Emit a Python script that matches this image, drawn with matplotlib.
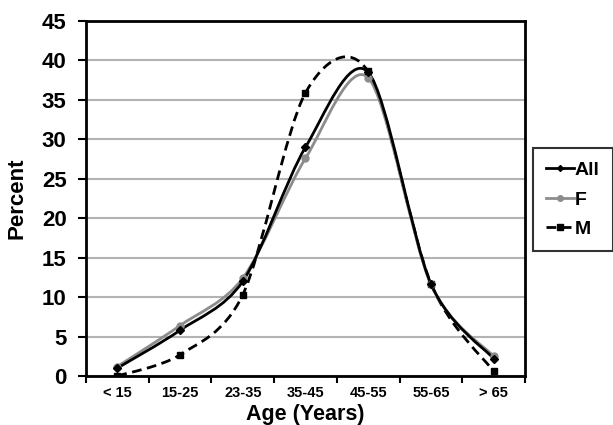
import matplotlib
matplotlib.use("Agg")
import matplotlib.pyplot as plt
from matplotlib.path import Path
from matplotlib.patches import PathPatch
from matplotlib.lines import Line2D
import numpy as np

plt.rcParams['font.family'] = ['Liberation Sans', 'DejaVu Sans']

ages = ['< 15', '15-25', '23-35', '35-45', '45-55', '55-65', '> 65']
all_pct = [1.0, 5.8, 12.0, 29.0, 38.5, 11.7, 2.2]
f_pct = [1.2, 6.4, 12.4, 27.6, 37.8, 11.6, 2.5]
m_pct = [0.0, 2.7, 10.3, 35.9, 38.6, 11.7, 0.6]


def smooth_path(x, y, k=0.15):
    # Excel-like smoothed line: cubic bezier segments (Catmull-Rom tangents)
    p = np.column_stack([x, y]).astype(float)
    n = len(p)
    verts = [p[0]]
    codes = [Path.MOVETO]
    for i in range(n - 1):
        p0 = p[i - 1] if i > 0 else p[i]
        p3 = p[i + 2] if i + 2 < n else p[i + 1]
        c1 = p[i] + (p[i + 1] - p0) * k
        c2 = p[i + 1] - (p3 - p[i]) * k
        verts += [c1, c2, p[i + 1]]
        codes += [Path.CURVE4] * 3
    return Path(verts, codes)


fig = plt.figure(figsize=(6.13, 4.25), dpi=100)
ax = fig.add_axes([0.1403, 0.1153, 0.7161, 0.8353])

x = np.arange(len(ages))

series = [
    ('All', all_pct, 'black', '-', 'D', 4),
    ('F', f_pct, '#8c8c8c', '-', 'o', 5),
    ('M', m_pct, 'black', (0, (3.5, 2)), 's', 5),
]

for name, vals, col, ls, mk, ms in series[::-1]:
    patch = PathPatch(smooth_path(x, vals), facecolor='none', edgecolor=col,
                      lw=2, linestyle=ls, zorder=3)
    ax.add_patch(patch)
    ax.plot(x, vals, linestyle='none', marker=mk, ms=ms, color=col, zorder=4)

handles = []
for name, vals, col, ls, mk, ms in series:
    handles.append(Line2D([], [], color=col, lw=2, linestyle=ls, marker=mk,
                          ms=ms - 1))

ax.set_xlim(-0.5, len(ages) - 0.5)
ax.set_ylim(0, 45)
ax.set_yticks(range(0, 46, 5))
ax.set_xticks(x)
ax.set_xticklabels(ages, fontsize=10.5, fontweight='bold')
ax.set_xticks(np.arange(-0.5, len(ages), 1), minor=True)
ax.tick_params(axis='x', which='major', length=0, pad=7)
ax.tick_params(axis='x', which='minor', length=5, width=1.5, direction='out')
ax.tick_params(axis='y', length=6, width=1.5, labelsize=16, pad=8)
for lab in ax.get_yticklabels():
    lab.set_fontweight('bold')

ax.grid(axis='y', color='#b3b3b3', lw=1.5)
ax.set_axisbelow(True)
for s in ax.spines.values():
    s.set_linewidth(2)
    s.set_color('black')

ax.set_xlabel('Age (Years)', fontsize=15.5, fontweight='bold', labelpad=3)
ax.set_ylabel('Percent', fontsize=16, fontweight='bold', labelpad=10)

leg = fig.legend(handles, ['All', 'F', 'M'], loc='center left',
                 bbox_to_anchor=(0.869, 0.53), borderaxespad=0, fontsize=14,
                 frameon=True, fancybox=False, edgecolor='black',
                 handlelength=1.4, handletextpad=0.05, labelspacing=0.6,
                 borderpad=0.7)
leg.get_frame().set_linewidth(1.5)
for t in leg.get_texts():
    t.set_fontweight('bold')

fig.savefig('out.png', dpi=100)
